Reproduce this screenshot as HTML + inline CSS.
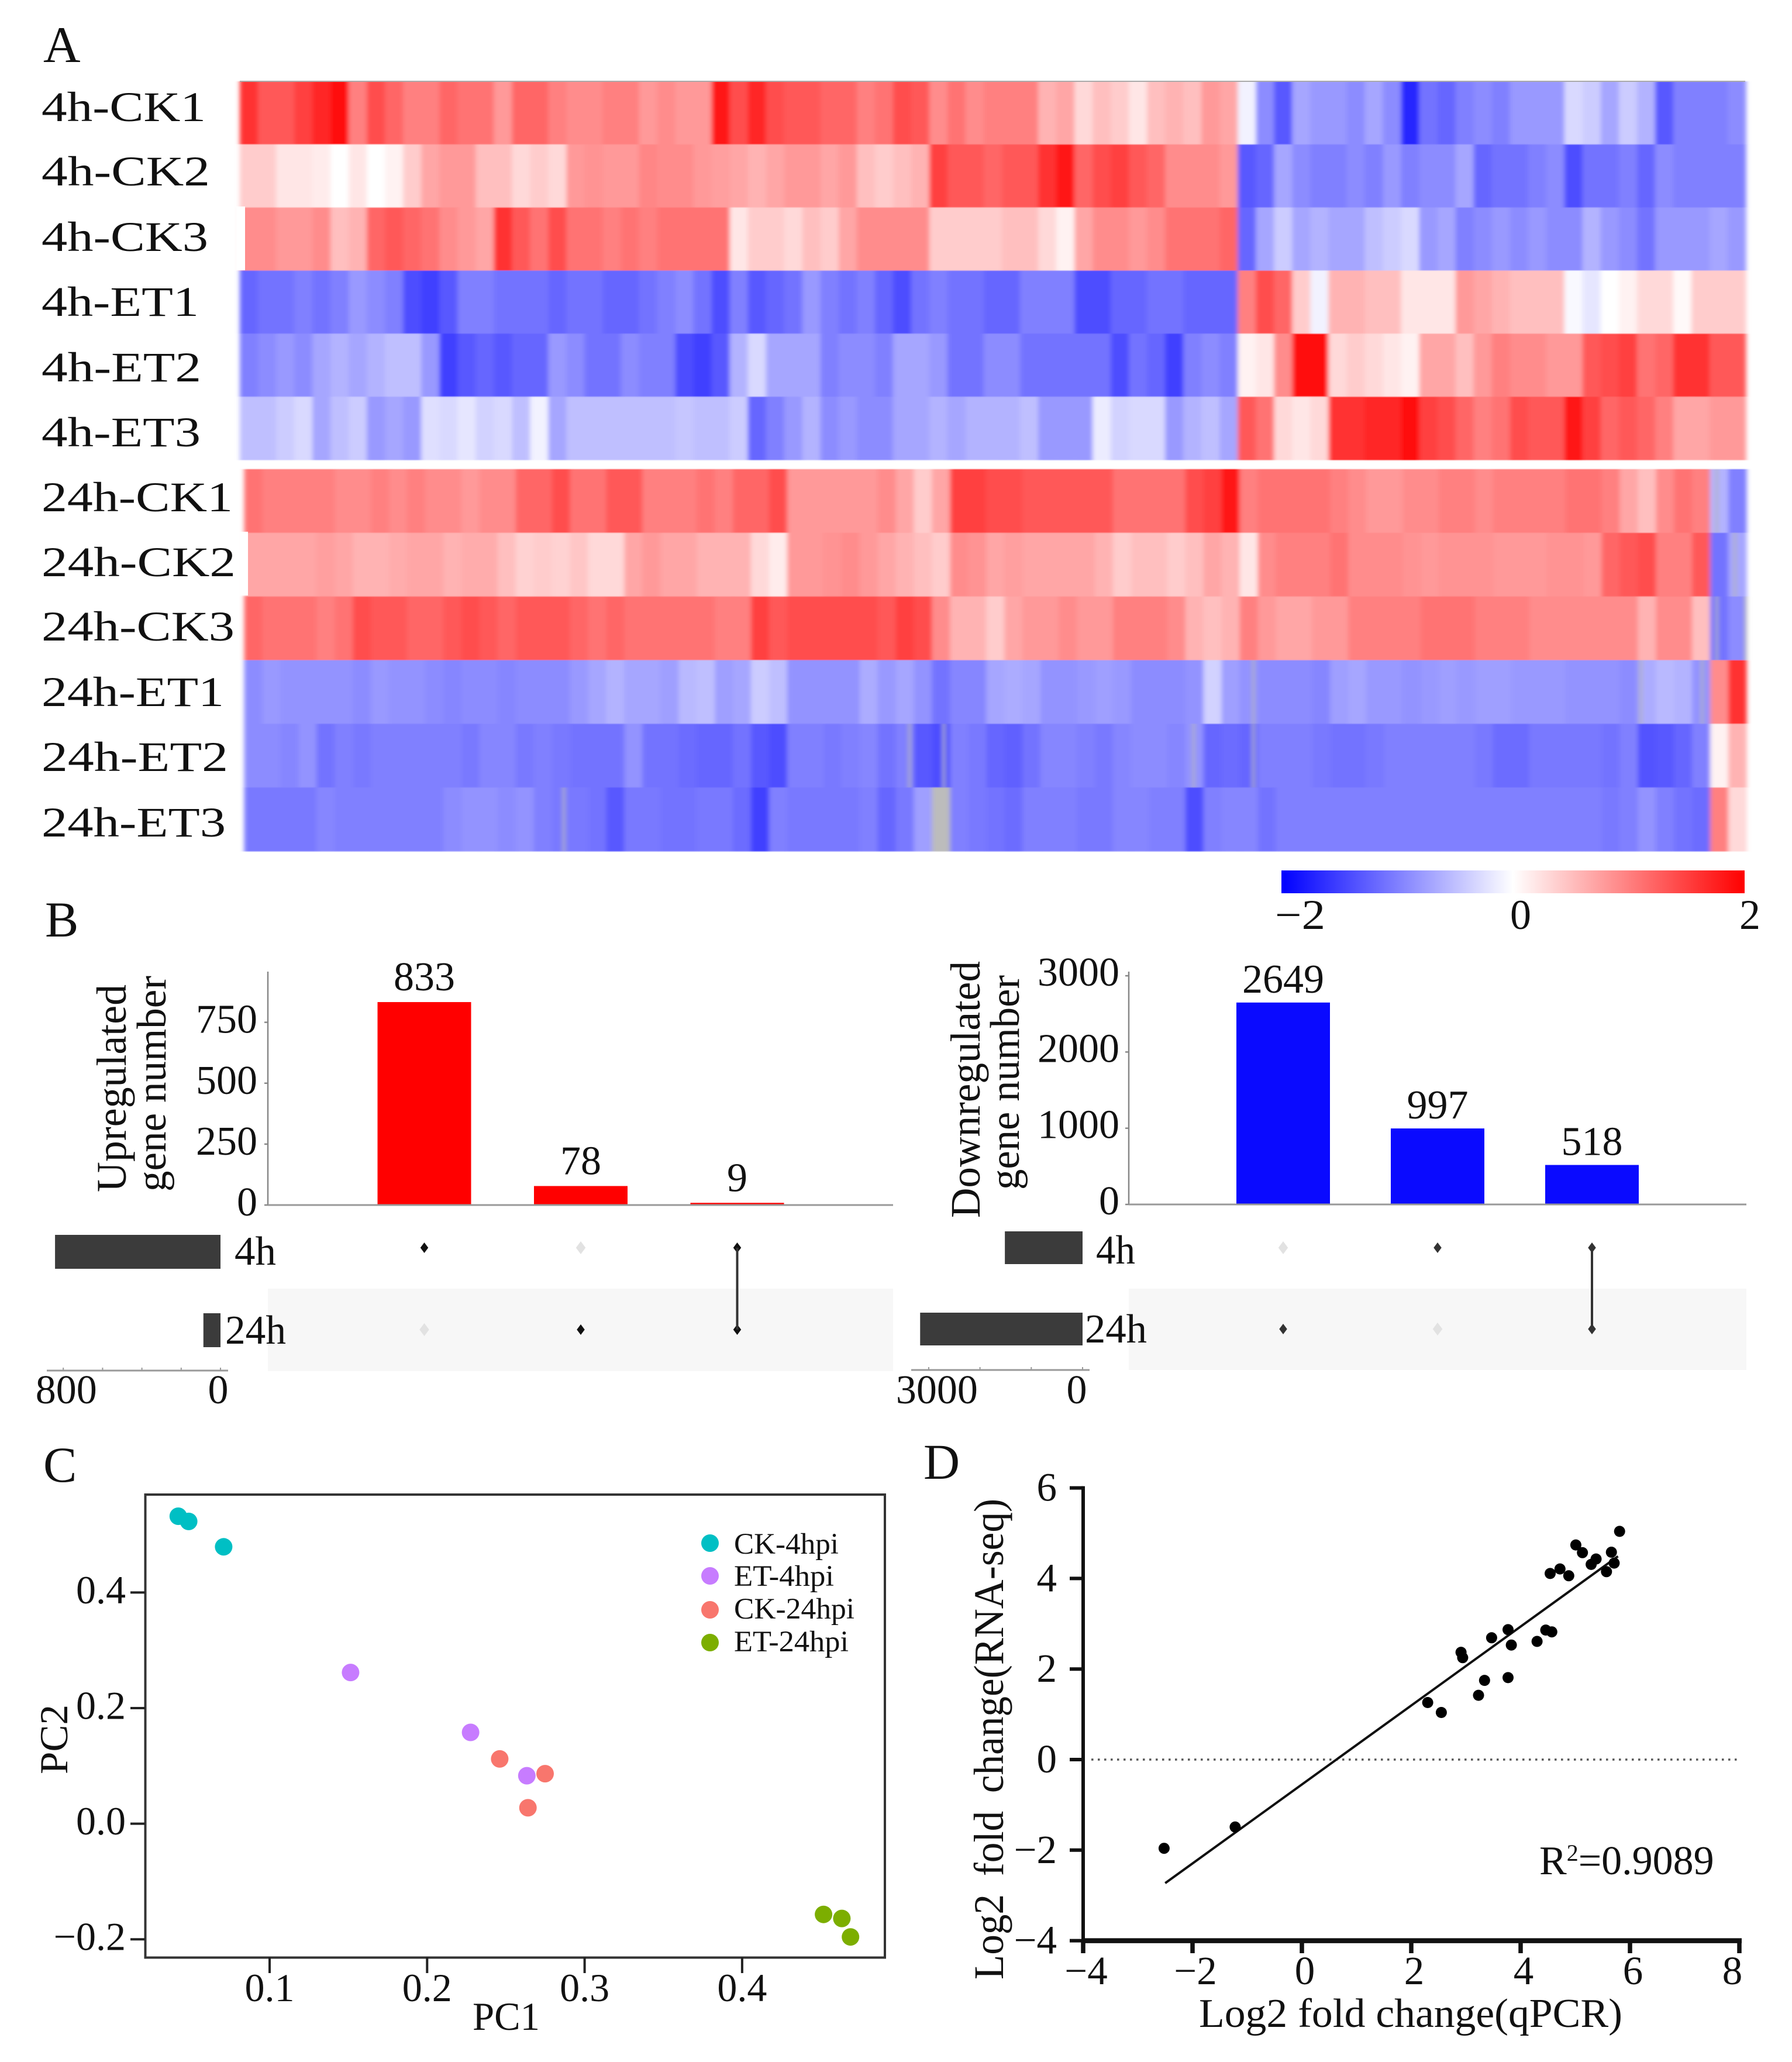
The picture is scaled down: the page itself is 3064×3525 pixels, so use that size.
<!DOCTYPE html>
<html lang="en">
<head>
<meta charset="utf-8">
<title>Differential expression figure</title>
<style>
html,body{margin:0;padding:0;background:#fff}
svg{display:block}
text{font-family:"Liberation Serif",serif;fill:#111}
</style>
</head>
<body>
<svg id="figure" xmlns="http://www.w3.org/2000/svg" width="3064" height="3525" viewBox="0 0 3064 3525">
<defs>
<linearGradient id="colorbarGradient" x1="0" x2="1" y1="0" y2="0">
<stop offset="0" stop-color="#0000ff"/><stop offset="0.5" stop-color="#ffffff"/><stop offset="1" stop-color="#ff0000"/>
</linearGradient>
<filter id="soften" x="-1%" y="-1%" width="102%" height="102%"><feGaussianBlur stdDeviation="4 0.8"/></filter>
</defs>
<rect width="3064" height="3525" fill="#fff"/>

<g id="heat4h" filter="url(#soften)"></g>
<g id="heat24h" filter="url(#soften)"></g>
<rect x="404" y="353" width="15" height="109" fill="#fff"/>
<rect x="410" y="909" width="14" height="109" fill="#fff"/>
<line x1="410" x2="2984" y1="139" y2="139" stroke="#aaa" stroke-width="2"/>

<g font-size="86">
<text x="74" y="106" font-size="88">A</text>
<text x="77" y="1601">B</text>
<text x="74" y="2533">C</text>
<text x="1579" y="2528">D</text>
</g>

<g font-size="72">
<text x="71" y="207" textLength="281" lengthAdjust="spacingAndGlyphs">4h-CK1</text>
<text x="71" y="317" textLength="288" lengthAdjust="spacingAndGlyphs">4h-CK2</text>
<text x="71" y="429" textLength="285" lengthAdjust="spacingAndGlyphs">4h-CK3</text>
<text x="71" y="540" textLength="269" lengthAdjust="spacingAndGlyphs">4h-ET1</text>
<text x="71" y="652" textLength="273" lengthAdjust="spacingAndGlyphs">4h-ET2</text>
<text x="71" y="763" textLength="272" lengthAdjust="spacingAndGlyphs">4h-ET3</text>
<text x="71" y="874" textLength="327" lengthAdjust="spacingAndGlyphs">24h-CK1</text>
<text x="71" y="985" textLength="332" lengthAdjust="spacingAndGlyphs">24h-CK2</text>
<text x="71" y="1095" textLength="330" lengthAdjust="spacingAndGlyphs">24h-CK3</text>
<text x="71" y="1207" textLength="312" lengthAdjust="spacingAndGlyphs">24h-ET1</text>
<text x="71" y="1318" textLength="319" lengthAdjust="spacingAndGlyphs">24h-ET2</text>
<text x="71" y="1430" textLength="315" lengthAdjust="spacingAndGlyphs">24h-ET3</text>
</g>

<g>
<rect x="2191" y="1488" width="792" height="39" fill="url(#colorbarGradient)"/>
<text x="2223" y="1588" font-size="72" text-anchor="middle" textLength="86" lengthAdjust="spacingAndGlyphs">−2</text>
<text x="2600" y="1588" font-size="72" text-anchor="middle">0</text>
<text x="2992" y="1588" font-size="72" text-anchor="middle">2</text>
</g>

<g id="panelBLeft">
<rect x="458" y="2203" width="1069" height="141" fill="#f7f7f7"/>
<text transform="translate(215,2038) rotate(-90)" font-size="72" textLength="355" lengthAdjust="spacingAndGlyphs">Upregulated</text>
<text transform="translate(283,2037) rotate(-90)" font-size="71" textLength="369" lengthAdjust="spacingAndGlyphs">gene number</text>
<text x="401" y="2162" font-size="70" textLength="71" lengthAdjust="spacingAndGlyphs">4h</text>
<text x="385" y="2297" font-size="70" textLength="104" lengthAdjust="spacingAndGlyphs">24h</text>
</g>

<g id="panelBRight">
<rect x="1930" y="2203" width="1056" height="139" fill="#f7f7f7"/>
<text transform="translate(1675,2082) rotate(-90)" font-size="72" textLength="439" lengthAdjust="spacingAndGlyphs">Downregulated</text>
<text transform="translate(1742,2034) rotate(-90)" font-size="71" textLength="367" lengthAdjust="spacingAndGlyphs">gene number</text>
<text x="1874" y="2160" font-size="70" textLength="67" lengthAdjust="spacingAndGlyphs">4h</text>
<text x="1855" y="2295" font-size="70" textLength="106" lengthAdjust="spacingAndGlyphs">24h</text>
</g>

<g id="panelC">
<rect x="248.5" y="2555" width="1264.5" height="791.5" fill="none" stroke="#333" stroke-width="4"/>
<text x="808" y="3470" font-size="68" textLength="115" lengthAdjust="spacingAndGlyphs">PC1</text>
<text transform="translate(115,3033) rotate(-90)" font-size="68" textLength="119" lengthAdjust="spacingAndGlyphs">PC2</text>
<g font-size="51">
<circle cx="1214" cy="2638" r="15" fill="#00BFC4"/>
<text x="1255" y="2656" textLength="179" lengthAdjust="spacingAndGlyphs">CK-4hpi</text>
<circle cx="1214" cy="2694" r="15" fill="#C77CFF"/>
<text x="1255" y="2711" textLength="171" lengthAdjust="spacingAndGlyphs">ET-4hpi</text>
<circle cx="1214" cy="2752" r="15" fill="#F8766D"/>
<text x="1255" y="2767" textLength="206" lengthAdjust="spacingAndGlyphs">CK-24hpi</text>
<circle cx="1214" cy="2808" r="15" fill="#7CAE00"/>
<text x="1255" y="2823" textLength="196" lengthAdjust="spacingAndGlyphs">ET-24hpi</text>
</g>
</g>

<g id="panelD">
<text x="2050" y="3465" font-size="70" textLength="724" lengthAdjust="spacingAndGlyphs">Log2 fold change(qPCR)</text>
<text transform="translate(1715,3384) rotate(-90)" font-size="72" word-spacing="14" textLength="822" lengthAdjust="spacingAndGlyphs">Log2 fold change(RNA-seq)</text>
<text x="2632" y="3204" font-size="70">R<tspan dy="-23" font-size="40">2</tspan><tspan dy="23">=0.9089</tspan></text>
</g>

<script>
// ---------- Panel A heatmap values (z-scores, one value per gene bin) ----------
const row4hCK1=[1.6,1.3,1.3,1.5,1.7,1.9,1.0,1.4,1.2,1.0,
1.0,1.2,1.1,1.1,0.8,1.2,1.2,1.0,0.9,0.9,
1.0,1.0,0.8,0.9,0.8,0.8,1.8,1.4,1.7,1.4,
1.3,1.3,1.2,1.2,1.0,1.1,1.4,1.3,0.9,1.1,
0.9,1.0,1.0,1.0,0.6,0.7,0.3,0.5,0.4,0.2,
0.5,0.6,0.5,0.8,0.7,-0.1,-0.9,-1.3,-0.7,-0.8,
-0.8,-0.9,-0.7,-0.9,-1.7,-1.1,-1.2,-1.0,-0.9,-1.0,
-0.8,-0.8,-0.8,-0.3,-0.4,-0.7,-0.4,-0.6,-1.3,-1.0,
-1.0,-1.0,-0.9];
const row4hCK2=[.4,.4,.2,.2,.15,0,.2,0,.1,.4,
.7,.8,.8,.5,.5,.3,.4,.3,.8,.85,
.8,.8,.95,.9,.9,.8,.75,.7,.6,.7,
.8,.8,.7,.8,.5,.4,.5,.6,1.5,1.3,
1.3,1.2,1.3,1.3,1.6,1.8,1.2,1.4,1.5,1.3,
1.2,.9,.9,.9,.8,-1.3,-1.2,-.7,-.9,-1.0,
-1.0,-.9,-1.0,-.8,-1.0,-.9,-.9,-.7,-1.2,-1.1,
-1.1,-1.0,-.9,-1.4,-1.1,-1.1,-1.0,-1.2,-.9,-1.0,
-1,-1,-1];
const row4hCK3=[.9,.9,.8,.8,.9,.5,.6,1.2,1.3,1.2,
1.1,.9,.8,.7,1.6,1.3,1.1,1.4,1.1,1.1,
1.0,1.1,1.0,1.1,1.1,1.1,1.1,.2,.4,.4,
.3,.5,.4,.7,.9,.9,.9,.9,.4,.4,
.4,.4,.5,.5,.3,.1,.7,.9,.9,.8,
.9,1.1,1.1,1.1,1.2,-1.2,-.7,-.4,-.7,-.6,
-.7,-.7,-.5,-.4,-.3,-.8,-.7,-1.0,-.9,-.8,
-.9,-.8,-.9,-.9,-.6,-.8,-.9,-1.1,-.8,-.8,
-.8,-.7,-.8];
const row4hET1=[-1.2,-1.1,-1.1,-1,-1.1,-1,-.8,-.9,-1,-1.4,
-1.5,-1.3,-1,-1,-1.1,-1.1,-1.1,-1.2,-1.1,-1.1,
-1.2,-1.2,-1.1,-1,-.9,-1.1,-1.4,-1,-1.3,-1.2,
-1.1,-.8,-1,-1.1,-1,-1.2,-1.4,-1.1,-1,-1.1,
-1.1,-1.2,-1.2,-1,-1,-1,-1.4,-1.4,-1.2,-1.2,
-1.1,-1.1,-1.2,-1.2,-1.2,1,1.4,1.2,.4,-.1,
.6,.6,.5,.5,.2,.2,.2,.8,.7,.6,
.5,.5,.5,-.05,-.2,0,.1,.3,.3,.05,
.4,.4,.4];
const row4hET2=[-1,-.9,-.8,-.9,-.7,-.6,-.7,-.6,-.5,-.5,
-.8,-1.5,-1.3,-1.2,-1.3,-1.2,-1.2,-.8,-.9,-1.1,
-1.1,-.9,-1,-1,-1.4,-1.5,-1.3,-.6,-.3,-.7,
-.7,-.7,-1,-.9,-.9,-1,-.7,-.7,-.8,-1.1,
-1.1,-.9,-.9,-1.1,-1.1,-1.1,-1.1,-1.1,-1.4,-1.1,
-1.2,-1.5,-1,-.9,-1,.1,.2,.9,1.9,1.9,
.3,.4,.3,.2,.1,.7,.7,.5,.8,1,
.9,.9,.8,.8,1.3,1.4,1.5,1.1,1.2,1.6,
1.6,1.3,1.3];
const row4hET3=[-.5,-.5,-.4,-.3,-.7,-.5,-.4,-.8,-.7,-.8,
-.25,-.3,-.2,-.35,-.3,-.5,-.1,-.7,-.5,-.5,
-.5,-.5,-.5,-.5,-.45,-.5,-.5,-.4,-1.2,-1,
-.8,-.6,-.9,-.8,-.9,-.9,-.7,-.7,-.6,-.7,
-.6,-.6,-.6,-.5,-.8,-.8,-.8,-.15,-.35,-.3,
-.3,-.8,-.6,-.5,-.7,1.3,1.1,.3,.2,.3,
1.6,1.6,1.7,1.7,1.9,1.5,1.4,1.2,1,1.1,
1.4,1.3,1.3,1.8,1.5,1.2,1.3,1.2,1,.7,
.7,.8,.8];
const row24hCK1=[1.1,1,1,1,1,.9,.9,1,.9,1,
.9,.9,.8,.9,.9,1.2,1.2,1.4,1.1,1.1,
1.3,1.3,1,1,1,1.1,1,1.2,1.2,1.4,
.8,.8,.8,.8,.8,.9,.7,.4,.7,1.5,
1.5,1.4,1.4,1.3,1.3,1.3,1.3,1.3,1.1,1.1,
1.1,1.1,1.4,1.5,1.8,1,1.1,1.1,1.1,1.1,
1,.9,.8,.8,.9,.9,1,1,.9,1,
1,1,1,1.1,1.1,1,.7,.5,.9,1.1,
1,-.6,-1];
const row24hCK2=[.7,.7,.7,.7,.75,.7,.6,.6,.65,.7,
.7,.6,.65,.65,.5,.35,.4,.35,.45,.3,
.3,.7,.8,.7,.7,.6,.6,.6,.3,.15,
.8,.8,.85,.9,.8,.7,.6,.5,.4,.9,
.85,.7,.75,.7,.7,.7,.7,.6,.4,.5,
.5,.4,.5,.7,.6,.2,.9,1,1,1,
1.1,.9,.9,.9,.85,.8,.85,.85,.85,.8,
.8,.8,.85,.85,.8,1.2,1.3,1.4,1,1,
1.3,-1.1,-.7];
const row24hCK3=[1.2,1.1,1.1,1.1,1,1.1,1.4,1.3,1.3,1.2,
1.2,1.3,1.4,1.3,1.2,1.3,1.3,1.3,1.2,1.1,
1.2,1.1,1.1,1.1,1.1,1.1,1,1,1.5,1.3,
1.4,1.4,1.4,1.4,1.4,1.3,1.5,1.4,.9,.6,
.6,.4,.7,.8,.8,.9,.8,.8,1,1,
1,.9,.6,.5,.6,1,.8,.7,.7,.8,
.8,1,1,1,1,1.1,1.1,1.1,1,1,
1,.9,.9,.9,.9,.9,.9,.6,.9,.9,
.5,-1.1,-.9];
const row24hET1=[-.9,-.8,-.85,-.85,-.85,-.85,-.9,-.8,-.85,-.85,
-.9,-.95,-.9,-.9,-.95,-.9,-.9,-.9,-.8,-.7,
-.6,-.7,-.7,-.75,-.55,-.5,-.75,-.7,-.4,-.5,
-.85,-.85,-.85,-.85,-.65,-.8,-.7,-.85,-1.1,-.95,
-.95,-.7,-.65,-.7,-.85,-.85,-.8,-.75,-.8,-.9,
-.9,-.9,-.85,-.35,-.75,-.85,-.9,-.9,-.9,-.95,
-.75,-.7,-.8,-.8,-.85,-.8,-.75,-.8,-.75,-.75,
-.8,-.8,-.8,-.85,-.85,-.85,-.9,-.65,-.55,-.6,
-.85,.9,1.6];
const row24hET2=[-.9,-.9,-.95,-.85,-1.1,-1,-1.05,-1,-1,-1,
-1,-1,-1.05,-.95,-.95,-1.05,-1,-1.05,-1.1,-1.1,
-1.1,-.85,-1.1,-1.1,-1.15,-1.2,-1.2,-1.1,-1.3,-1.4,
-1,-1,-1.05,-1,-.95,-1.1,-1,-1.3,-1.4,-1,
-1.05,-1.2,-1.25,-1.1,-.95,-.95,-1,-1.05,-.95,-.9,
-.9,-.95,-.85,-1.2,-1.15,-1.2,-1,-1,-1,-1.05,
-1.1,-1.1,-1.05,-1,-1,-1,-1,-1,-1.05,-1.15,
-1.15,-1.05,-1.05,-1.05,-1.05,-1.1,-1,-1.35,-1.3,-1.2,
-1,.1,.6];
const row24hET3=[-1.05,-1.05,-1.05,-1.05,-.95,-1,-1,-1,-1,-1,
-1,-.9,-.85,-.85,-.9,-.85,-1,-1.05,-1.05,-1.1,
-1.3,-1.05,-1.05,-1.1,-1.1,-1.05,-1.05,-1.15,-1.5,-1,
-1.05,-1.05,-1.05,-1.05,-1,-1.2,-1.05,-.75,null,-1,
-1.05,-1.1,-1.15,-1,-1,-1,-1.05,-1.05,-.95,-.95,
-1,-1,-1.4,-1,-.95,-.95,-1.1,-1,-1,-1,
-1,-1,-1,-1,-1,-1,-1,-1,-1,-1,
-1,-1,-1,-1,-1,-1.05,-1,-.85,-1,-1.1,
-1.15,1,.3];
const heat4hRows=[row4hCK1,row4hCK2,row4hCK3,row4hET1,row4hET2,row4hET3];
const heat24hRows=[row24hCK1,row24hCK2,row24hCK3,row24hET1,row24hET2,row24hET3];
const heat4hNames=['4h-ck1','4h-ck2','4h-ck3','4h-et1','4h-et2','4h-et3'];
const heat24hNames=['24h-ck1','24h-ck2','24h-ck3','24h-et1','24h-et2','24h-et3'];
// missing-value streaks in the 24h map: row index and gene-bin index
const missingRow24h=[0,2,2,1,3,3,3,4,4,4,4,5];
const missingBin24h=[81.3,81.3,82.9,82.3,55.7,77.1,80.5,36.7,38.6,52.4,55.7,17.6];

// ---------- Panel B values ----------
const upBarValues=[833,78,9];
const upTickValues=[0,250,500,750];
const upSetTotals=[842,87];
const upSetTickValues=[800,600,400,200,0];
const upSetTickLabels=['800','','','','0'];
const upMembership4h=[1,0,1];
const upMembership24h=[0,1,1];
const downBarValues=[2649,997,518];
const downTickValues=[0,1000,2000,3000];
const downSetTotals=[1515,3167];
const downSetTickValues=[3000,2000,1000,0];
const downSetTickLabels=['3000','','','0'];
const downMembership4h=[0,1,1];
const downMembership24h=[1,0,1];

// ---------- Panel C values ----------
const pcaGroups=['ck-4hpi','et-4hpi','ck-24hpi','et-24hpi'];
const pcaColors=['#00BFC4','#C77CFF','#F8766D','#7CAE00'];
const pc1CK4=[.042,.0486,.0708];
const pc2CK4=[.532,.523,.479];
const pc1ET4=[.1514,.2276,.2633];
const pc2ET4=[.2616,.158,.083];
const pc1CK24=[.2461,.2749,.264];
const pc2CK24=[.112,.0865,.0275];
const pc1ET24=[.4517,.4633,.4688];
const pc2ET24=[-.157,-.164,-.196];
const pcaXTicks=[.1,.2,.3,.4];
const pcaXLabels=['0.1','0.2','0.3','0.4'];
const pcaYTicks=[-.2,0,.2,.4];
const pcaYLabels=['−0.2','0.0','0.2','0.4'];

// ---------- Panel D values ----------
const qpcrValues=[-2.52,-1.22,2.30,2.55,2.91,2.94,3.23,3.34,3.47,3.77,3.77,3.83,4.30,4.46,4.57,4.54,4.72,4.88,5.01,5.13,5.29,5.38,5.57,5.66,5.71,5.81];
const rnaseqValues=[-1.96,-1.49,1.26,1.04,2.37,2.25,1.42,1.75,2.69,2.87,1.81,2.53,2.61,2.86,2.82,4.11,4.21,4.06,4.74,4.57,4.31,4.43,4.15,4.58,4.34,5.04];
const fitLineX=[-2.5,5.78];
const fitLineY=[-2.73,4.49];
const corrXTicks=[-4,-2,0,2,4,6,8];
const corrXLabels=['−4','−2','0','2','4','6','8'];
const corrYTicks=[-4,-2,0,2,4,6];
const corrYLabels=['−4','−2','0','2','4','6'];

// ---------- helpers ----------
const NS='http://www.w3.org/2000/svg';
function mk(tag,attrs,parent){
  const el=document.createElementNS(NS,tag);
  for(const k in attrs){el.setAttribute(k,attrs[k]);}
  parent.appendChild(el);
  return el;
}
function heatColor(v){
  if(v===null||v===undefined){return '#bcbcbc';}
  const t=Math.min(1,Math.abs(v)/2);
  const c=Math.round(255*(1-t));
  return v>=0?'rgb(255,'+c+','+c+')':'rgb('+c+','+c+',255)';
}

// ---------- Panel A ----------
function drawHeat(group,rows,names,x0,x1,y0,y1){
  const nCols=rows[0].length;
  const xBand=function(i){return x0+(x1-x0)*i/nCols;};
  const yBand=function(r){return y0+(y1-y0)*r/rows.length;};
  rows.forEach(function(vals,r){
    vals.forEach(function(v,i){
      const cell=mk('rect',{x:xBand(i).toFixed(2),y:yBand(r).toFixed(2),width:(xBand(1)-xBand(0)+0.6).toFixed(2),height:(yBand(1)-yBand(0)+0.6).toFixed(2),fill:heatColor(v)},group);
      
      
    });
  });
  return {xBand:xBand,yBand:yBand};
}
const heat4hGroup=document.getElementById('heat4h');
const heat24hGroup=document.getElementById('heat24h');
drawHeat(heat4hGroup,heat4hRows,heat4hNames,410,2985,139,786);
const scale24=drawHeat(heat24hGroup,heat24hRows,heat24hNames,417.5,2986,802,1455);
missingRow24h.forEach(function(r,i){
  const streak=mk('rect',{x:scale24.xBand(missingBin24h[i]).toFixed(2),y:scale24.yBand(r).toFixed(2),width:4,height:(scale24.yBand(1)-scale24.yBand(0)).toFixed(2),fill:'#b4b4b4'},heat24hGroup);
  
  
});

// ---------- Panel B ----------
function drawUpset(g,o){
  const xPos=function(i){return o.axisX+o.step*(i+1);};
  const yVal=function(v){return o.baseY-v*o.pxPerUnit;};
  const setX=function(v){return o.setZeroX-v*o.setPx;};

  const yAxis=mk('line',{x1:o.axisX,x2:o.axisX,y1:o.axisTop,y2:o.baseY,stroke:'#888','stroke-width':2.5},g);
  
  

  o.barValues.forEach(function(v,i){
    const bar=mk('rect',{x:xPos(i)-80,y:yVal(v),width:160,height:o.baseY-yVal(v),fill:o.color},g);
    
    
    const lab=mk('text',{x:xPos(i)+o.valueDx,y:yVal(v)-o.valueGap,'font-size':70,'text-anchor':'middle'},g);
    lab.textContent=String(v);
    
    
  });

  const baseLine=mk('line',{x1:o.axisX,x2:o.axisEnd,y1:o.baseY,y2:o.baseY,stroke:'#999','stroke-width':3},g);
  
  

  o.tickValues.forEach(function(v){
    const mark=mk('line',{x1:o.axisX-6,x2:o.axisX,y1:yVal(v),y2:yVal(v),stroke:'#888','stroke-width':2.5},g);
    
    
    const t=mk('text',{x:o.axisX-o.labelGap,y:yVal(v)+o.tickDy,'font-size':70,'text-anchor':'end'},g);
    t.textContent=String(v);
    
    
  });

  const memberships=[o.member4h,o.member24h];
  const rowY=[o.row4hY,o.row24hY];
  o.barValues.forEach(function(_,i){
    memberships.forEach(function(m,r){
      const cx=xPos(i),cy=rowY[r],s=m[i]?9:11;
      const dot=mk('polygon',{points:(cx)+','+(cy-s)+' '+(cx+s*0.75)+','+cy+' '+cx+','+(cy+s)+' '+(cx-s*0.75)+','+cy,fill:m[i]?o.dotColor:'#e2e2e2'},g);
      
      
    });
    if(memberships[0][i]&&memberships[1][i]){
      const link=mk('line',{x1:xPos(i),x2:xPos(i),y1:rowY[0],y2:rowY[1],stroke:'#333','stroke-width':4},g);
      
      
    }
  });

  o.setTotals.forEach(function(v,r){
    const b=mk('rect',{x:setX(v),y:o.setBarY[r],width:o.setZeroX-setX(v),height:o.setBarH,fill:'#3b3b3b'},g);
    
    
  });

  const setAxis=mk('line',{x1:o.setAxisX[0],x2:o.setAxisX[1],y1:o.setAxisY,y2:o.setAxisY,stroke:'#999','stroke-width':3},g);
  
  

  o.setTickValues.forEach(function(v,i){
    const tk=mk('line',{x1:setX(v),x2:setX(v),y1:o.setAxisY-5,y2:o.setAxisY,stroke:'#999','stroke-width':2},g);
    
    
    if(o.setTickLabels[i]){
      const tl=mk('text',{x:setX(v)+o.setLabelDx[i],y:2399,'font-size':70,'text-anchor':'middle'},g);
      tl.textContent=o.setTickLabels[i];
      
      
    }
  });
}
drawUpset(document.getElementById('panelBLeft'),{
  prefix:'up',color:'#ff0000',dotColor:'#111',axisX:458,axisEnd:1527,axisTop:1661,step:267.5,baseY:2060,pxPerUnit:0.4165,
  barValues:upBarValues,tickValues:upTickValues,labelGap:18,tickDy:18,valueGap:20,valueDx:0,
  member4h:upMembership4h,member24h:upMembership24h,row4hY:2133,row24hY:2273,
  setZeroX:377,setPx:0.336,setTotals:upSetTotals,setBarY:[2111,2245],setBarH:58,
  setAxisX:[80,390],setAxisY:2343,setTickValues:upSetTickValues,setTickLabels:upSetTickLabels,setLabelDx:[5,0,0,0,-4]
});
drawUpset(document.getElementById('panelBRight'),{
  prefix:'down',color:'#0a0aff',dotColor:'#333',axisX:1930,axisEnd:2986,axisTop:1661,step:264,baseY:2059,pxPerUnit:0.1303,
  barValues:downBarValues,tickValues:downTickValues,labelGap:16,tickDy:17,valueGap:17,valueDx:0,
  member4h:downMembership4h,member24h:downMembership24h,row4hY:2133,row24hY:2272,
  setZeroX:1851,setPx:0.0877,setTotals:downSetTotals,setBarY:[2105,2244],setBarH:56,
  setAxisX:[1558,1863],setAxisY:2342,setTickValues:downSetTickValues,setTickLabels:downSetTickLabels,setLabelDx:[14,0,0,-10]
});

// ---------- Panel C ----------
const panelC=document.getElementById('panelC');
const pcaX=function(v){return 461+(v-0.1)*2693;};
const pcaY=function(v){return 3117.6-v*988;};
pcaXTicks.forEach(function(v,i){
  const tk=mk('line',{x1:pcaX(v),x2:pcaX(v),y1:3346,y2:3373,stroke:'#222','stroke-width':4},panelC);
  
  
  const tl=mk('text',{x:pcaX(v),y:3421,'font-size':68,'text-anchor':'middle'},panelC);
  tl.textContent=pcaXLabels[i];
  
  
});
pcaYTicks.forEach(function(v,i){
  const tk=mk('line',{x1:223,x2:248,y1:pcaY(v),y2:pcaY(v),stroke:'#222','stroke-width':4},panelC);
  
  
  const tl=mk('text',{x:215,y:pcaY(v)+18.5,'font-size':68,'text-anchor':'end'},panelC);
  tl.textContent=pcaYLabels[i];
  
  
});
[[pc1CK4,pc2CK4],[pc1ET4,pc2ET4],[pc1CK24,pc2CK24],[pc1ET24,pc2ET24]].forEach(function(series,g){
  series[0].forEach(function(v,i){
    const pt=mk('circle',{cx:pcaX(v).toFixed(1),cy:pcaY(series[1][i]).toFixed(1),r:15,fill:pcaColors[g]},panelC);
    
    
  });
});

// ---------- Panel D ----------
const panelD=document.getElementById('panelD');
const corrX=function(v){return 2226+93.5*v;};
const corrY=function(v){return 3008-77.4*v;};
const zeroLine=mk('line',{x1:corrX(-3.85),x2:corrX(8),y1:corrY(0),y2:corrY(0),stroke:'#555','stroke-width':3.5,'stroke-dasharray':'3.5 7.5'},panelD);


const axisY=mk('line',{x1:corrX(-4),x2:corrX(-4),y1:corrY(6)-3,y2:corrY(-4)+3,stroke:'#111','stroke-width':6},panelD);


const axisX=mk('line',{x1:corrX(-4)-3,x2:corrX(8)+4,y1:corrY(-4),y2:corrY(-4),stroke:'#111','stroke-width':8.5},panelD);


corrXTicks.forEach(function(v,i){
  const tk=mk('line',{x1:corrX(v),x2:corrX(v),y1:corrY(-4),y2:3339,stroke:'#111','stroke-width':7.5},panelD);
  
  
  const tl=mk('text',{x:corrX(v)+(v===8?-12:5),y:3392,'font-size':69,'text-anchor':'middle'},panelD);
  tl.textContent=corrXLabels[i];
  
  
});
corrYTicks.forEach(function(v,i){
  const tk=mk('line',{x1:1829,x2:corrX(-4),y1:corrY(v),y2:corrY(v),stroke:'#111','stroke-width':6},panelD);
  
  
  const tl=mk('text',{x:1807,y:corrY(v)+22,'font-size':69,'text-anchor':'end'},panelD);
  tl.textContent=corrYLabels[i];
  
  
});
const fitLine=mk('line',{x1:corrX(fitLineX[0]),y1:corrY(fitLineY[0]),x2:corrX(fitLineX[1]),y2:corrY(fitLineY[1]),stroke:'#111','stroke-width':4},panelD);


qpcrValues.forEach(function(v,i){
  const pt=mk('circle',{cx:corrX(v).toFixed(1),cy:corrY(rnaseqValues[i]).toFixed(1),r:9.5,fill:'#000'},panelD);
  
  
});
</script>
</svg>
</body>
</html>
